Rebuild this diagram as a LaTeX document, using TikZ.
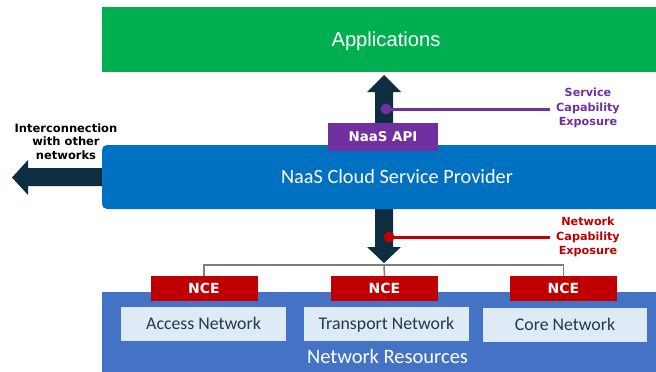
\documentclass[tikz,border=0pt]{standalone}
\usepackage{fontspec}
\setmainfont{Carlito}
\newfontfamily\arialf{Liberation Sans}
\newfontfamily\verdf{DejaVu Sans}
\definecolor{appgreen}{HTML}{00B050}
\definecolor{cspblue}{HTML}{0070C0}
\definecolor{apipurple}{HTML}{7030A0}
\definecolor{ncered}{HTML}{C00000}
\definecolor{resblue}{HTML}{4472C4}
\definecolor{subfill}{HTML}{DEEBF7}
\definecolor{arrowdark}{HTML}{0D2E40}
\definecolor{subtext}{HTML}{22394A}
\definecolor{linegray}{HTML}{7F7F7F}
\tikzset{
  layerbox/.style={fill=#1, draw=none, inner sep=0pt, outer sep=0pt, text=white},
  ncebox/.style={fill=ncered, draw=none, minimum width=107pt, minimum height=25pt, inner sep=0pt, text=white,
                 text height=10.5pt, text depth=0pt, font=\verdf\bfseries\fontsize{14}{16}\selectfont},
  subbox/.style={fill=subfill, draw=none, minimum height=34pt, inner sep=0pt, text=subtext,
                 text height=14.5pt, text depth=3.5pt, font=\fontsize{17.8}{20}\selectfont},
  sidelabel/.style={align=center, inner sep=0pt, font=\verdf\bfseries\fontsize{11.2}{14.5}\selectfont},
  fatarrow/.style={fill=arrowdark, draw=none},
  connector/.style={draw=linegray, line width=1.5pt},
  tapline/.style={line width=3pt},
}
\begin{document}
\begin{tikzpicture}[x=1pt,y=-1pt]
\clip (0,0) rectangle (656,372);
\fill[white] (0,0) rectangle (656,372);

% Layers
\node[layerbox=appgreen, minimum width=568pt, minimum height=65pt, anchor=north west,
      text height=14.5pt, text depth=0pt,
      font=\arialf\fontsize{20.2}{24}\selectfont] (app) at (102,7) {Applications};

% up arrow (behind API and CSP)
\fill[fatarrow] (375,150) -- (375,92) -- (367,92) -- (384,75) -- (401,92) -- (393,92) -- (393,150) -- cycle;
% down arrow
\fill[fatarrow] (375,200) -- (375,247) -- (367,247) -- (384,263) -- (401,247) -- (393,247) -- (393,200) -- cycle;
% left arrow
\fill[fatarrow] (110,168) -- (28,168) -- (28,160) -- (12,177.5) -- (28,195) -- (28,186) -- (110,186) -- cycle;

\node[layerbox=cspblue, minimum width=590pt, minimum height=64pt, anchor=north west, rounded corners=5pt,
      font=\fontsize{20.3}{24}\selectfont] (csp) at (102,145) {NaaS Cloud Service Provider};

\node[layerbox=apipurple, minimum width=110pt, minimum height=28pt, anchor=north west,
      text height=9.8pt, text depth=0pt,
      font=\verdf\bfseries\fontsize{13.4}{15}\selectfont] (api) at (328,123) {NaaS API};

\node[layerbox=resblue, minimum width=572pt, minimum height=90pt, anchor=north west] (res) at (102,292) {};
\node[text=white, inner sep=0pt, anchor=base, font=\fontsize{20.5}{22}\selectfont] (reslabel) at (387.5,363) {Network Resources};

% sub networks
\node[subbox, minimum width=165pt] (access) at (203.5,324) {Access Network};
\node[subbox, minimum width=165pt] (transport) at (386.5,323.5) {Transport Network};
\node[subbox, minimum width=164pt] (core) at (565,325) {Core Network};

% NCE
\node[ncebox] (nce1) at (204,288.5) {NCE};
\node[ncebox] (nce2) at (384.5,288.5) {NCE};
\node[ncebox] (nce3) at (563.5,288.5) {NCE};

% connectors to NCEs
\coordinate (bus) at (384,265);
\draw[connector] (nce1.north) |- (bus) -| (nce3.north);
\draw[connector] (bus) -- (nce2.north);

% side labels
\node[sidelabel, text=apipurple] (sce) at (588,108) {Service\\Capability\\Exposure};
\node[sidelabel, text=ncered] (nce) at (588,237) {Network\\Capability\\Exposure};
\node[align=center, inner sep=0pt, font=\verdf\bfseries\fontsize{11.5}{13.5}\selectfont] (inter) at (66,141.5) {Interconnection\\with other\\networks};

\coordinate (sdot) at (386,109);
\coordinate (ndot) at (389,237);
\coordinate (send) at (550,109);
\coordinate (nend) at (550,237);
\draw[apipurple, tapline] (sdot) -- (send);
\fill[apipurple] (sdot) circle (5.5pt);
\draw[ncered, tapline] (ndot) -- (nend);
\fill[ncered] (ndot) circle (5.5pt);
\end{tikzpicture}
\end{document}
